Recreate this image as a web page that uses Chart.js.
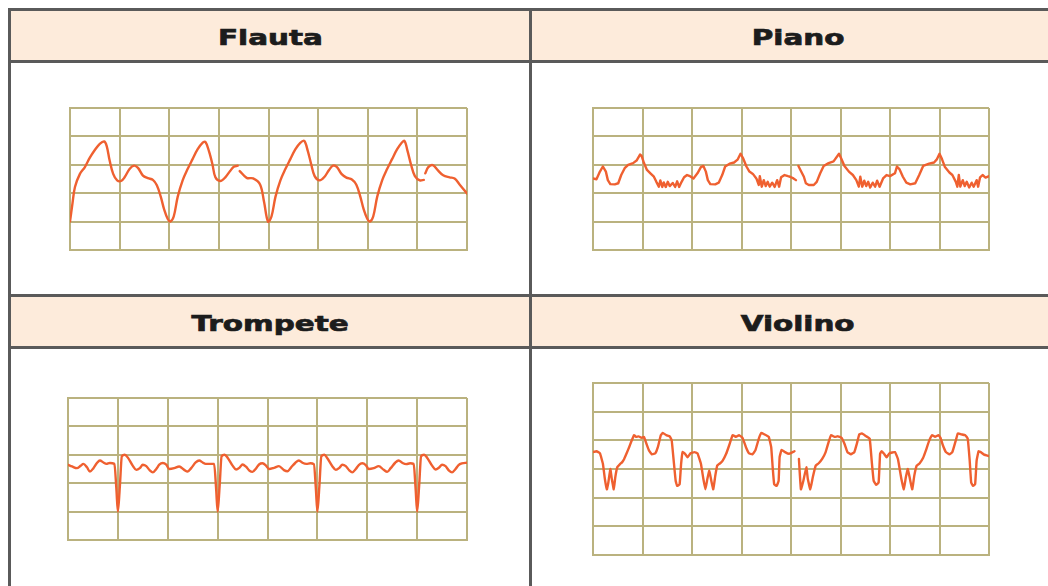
<!DOCTYPE html>
<html>
<head>
<meta charset="utf-8">
<script src="https://cdn.jsdelivr.net/npm/chart.js@4/dist/chart.umd.min.js"></script>
<style>
  html, body { margin: 0; padding: 0; background: #ffffff; }
  body { width: 1048px; height: 586px; position: relative; overflow: hidden; }
  .hdr { position: absolute; background: #fdebdb; display: flex; align-items: center; justify-content: center; }
  .hdr span { display: inline-block; font-family: "DejaVu Sans", sans-serif; font-weight: bold; font-size: 21px; color: #1c1c1c; -webkit-text-stroke: 0.7px #1c1c1c; transform: translateY(2px) scaleX(1.40); }
  .ln { position: absolute; background: #5a5a5a; }
  canvas { position: absolute; }
</style>
</head>
<body>
<div class="hdr" style="left:10px;top:10px;width:520px;height:52px;"><span id="t0"></span></div>
<div class="hdr" style="left:530px;top:10px;width:536px;height:52px;"><span id="t1"></span></div>
<div class="hdr" style="left:10px;top:295px;width:520px;height:53px;"><span id="t2"></span></div>
<div class="hdr" style="left:530px;top:295px;width:536px;height:53px;"><span id="t3"></span></div>

<div class="ln" style="left:8px;top:8px;width:1060px;height:3px;"></div>
<div class="ln" style="left:8px;top:60px;width:1060px;height:3px;"></div>
<div class="ln" style="left:8px;top:294px;width:1060px;height:3px;"></div>
<div class="ln" style="left:8px;top:346px;width:1060px;height:3px;"></div>
<div class="ln" style="left:8px;top:8px;width:3px;height:600px;"></div>
<div class="ln" style="left:529px;top:8px;width:3px;height:600px;"></div>

<canvas id="c0" width="403" height="148" style="left:67px;top:105px;"></canvas>
<canvas id="c1" width="402" height="148" style="left:590px;top:105px;"></canvas>
<canvas id="c2" width="405" height="148" style="left:65px;top:395px;"></canvas>
<canvas id="c3" width="402" height="178" style="left:590px;top:380px;"></canvas>

<script>
// ---- data (grid units: x 0..8, y 0..rows) ----
const titles = ["Flauta", "Piano", "Trompete", "Violino"];

const flautaX = [0,0.05,0.1,0.2,0.3,0.4,0.5,0.6,0.69,0.74,0.8,0.87,0.95,1.03,1.1,1.2,1.29,1.37,1.47,1.57,1.67,1.75,1.83,1.9,1.97,2.02,
  2.09,2.17,2.27,2.37,2.47,2.57,2.67,2.73,2.8,2.87,2.93,3.03,3.13,3.23,3.3,3.38,3.4,3.42,3.56,3.69,3.83,3.91,3.99,
  4.06,4.14,4.24,4.34,4.44,4.54,4.64,4.72,4.79,4.86,4.93,5.03,5.13,5.22,5.3,5.38,5.47,5.57,5.68,5.77,5.85,5.92,5.99,6.04,
  6.11,6.19,6.29,6.39,6.49,6.59,6.68,6.74,6.8,6.87,6.95,7.05,7.13,7.15,7.16,7.22,7.31,7.41,7.52,7.65,7.75,7.85,8.0];
const flautaY = [1.0,1.64,2.22,2.68,2.92,3.25,3.52,3.74,3.82,3.66,3.14,2.68,2.45,2.43,2.56,2.85,2.97,2.89,2.62,2.53,2.47,2.28,1.87,1.41,1.09,1.0,
  1.18,1.87,2.45,2.85,3.2,3.54,3.77,3.8,3.48,3.02,2.56,2.43,2.56,2.79,2.93,2.97,null,2.78,2.54,2.52,2.31,1.7,1.0,
  1.18,1.87,2.45,2.85,3.2,3.54,3.77,3.84,3.5,3.02,2.6,2.45,2.58,2.82,2.97,2.92,2.68,2.55,2.48,2.3,1.88,1.42,1.1,1.0,
  1.18,1.87,2.45,2.85,3.2,3.54,3.77,3.84,3.5,3.02,2.6,2.45,2.47,null,2.7,2.92,2.99,2.81,2.63,2.56,2.52,2.31,1.99];

const pianoX = [0,0.07,0.14,0.2,0.26,0.3,0.35,0.44,0.51,0.57,0.64,0.71,0.81,0.88,0.95,0.98,1.03,1.09,1.16,1.23,1.28,1.33,1.36,1.4,1.43,1.47,1.51,1.55,1.61,1.66,1.7,1.74,1.79,1.84,1.9,1.96,2.03,
  2.11,2.18,2.23,2.28,2.32,2.37,2.47,2.54,2.61,2.67,2.76,2.85,2.92,2.98,3.03,3.1,3.16,3.23,3.3,3.35,3.37,3.41,3.45,3.49,3.53,3.57,3.62,3.67,3.72,3.76,3.8,3.87,3.94,3.98,4.05,4.1,4.12,
  4.15,4.19,4.26,4.3,4.36,4.46,4.52,4.59,4.66,4.76,4.86,4.97,5.01,5.08,5.17,5.25,5.32,5.37,5.4,5.44,5.48,5.52,5.56,5.6,5.65,5.7,5.74,5.79,5.86,5.93,6.0,
  6.1,6.14,6.19,6.26,6.33,6.41,6.51,6.59,6.67,6.79,6.89,6.95,7.0,7.05,7.11,7.2,7.26,7.33,7.36,7.39,7.42,7.47,7.51,7.55,7.6,7.65,7.69,7.75,7.78,7.82,7.87,7.93,8.0];
const pianoY = [2.52,2.49,2.76,2.94,2.76,2.46,2.32,2.31,2.35,2.64,2.88,3.0,3.06,3.15,3.36,3.32,3.06,2.82,2.7,2.58,2.4,2.23,2.45,2.22,2.38,2.22,2.4,2.25,2.36,2.22,2.42,2.22,2.4,2.56,2.64,2.6,2.52,
  2.7,2.92,2.96,2.76,2.46,2.32,2.31,2.37,2.64,2.94,3.04,3.08,3.18,3.39,3.24,2.94,2.76,2.68,2.52,2.29,2.6,2.23,2.46,2.25,2.4,2.23,2.37,2.22,2.46,2.23,2.56,2.64,2.6,2.58,2.52,2.46,null,
  2.96,2.82,2.58,2.35,2.29,2.29,2.4,2.7,2.96,3.06,3.12,3.39,3.24,2.96,2.76,2.64,2.46,2.23,2.58,2.23,2.44,2.25,2.4,2.2,2.37,2.23,2.44,2.23,2.52,2.64,2.6,
  2.7,2.94,2.85,2.58,2.37,2.31,2.35,2.64,2.96,3.04,3.08,3.2,3.39,3.2,2.92,2.73,2.64,2.4,2.23,2.64,2.23,2.46,2.25,2.4,2.2,2.37,2.23,2.46,2.23,2.56,2.64,2.55,2.6];

const trompeteX = [0,0.08,0.18,0.25,0.31,0.38,0.44,0.51,0.58,0.64,0.71,0.77,0.84,0.93,0.97,1.0,1.04,1.08,1.14,
  1.2,1.3,1.37,1.44,1.5,1.57,1.64,1.7,1.77,1.83,1.9,1.97,2.03,2.13,2.23,2.33,2.4,2.47,2.56,2.63,2.7,2.76,2.86,2.93,2.97,3.0,3.04,3.08,3.14,
  3.2,3.3,3.37,3.44,3.5,3.57,3.64,3.7,3.77,3.83,3.9,3.97,4.03,4.13,4.23,4.33,4.4,4.47,4.56,4.63,4.7,4.78,4.86,4.93,4.97,5.0,5.04,5.08,5.14,
  5.2,5.3,5.37,5.44,5.5,5.57,5.64,5.7,5.77,5.83,5.9,5.97,6.03,6.13,6.23,6.33,6.4,6.47,6.56,6.63,6.7,6.78,6.86,6.93,6.97,7.0,7.04,7.08,7.14,
  7.2,7.3,7.37,7.44,7.5,7.57,7.64,7.7,7.77,7.83,7.9,8.0];
const trompeteY = [2.65,2.59,2.53,2.61,2.68,2.56,2.41,2.53,2.71,2.8,2.73,2.68,2.71,2.68,1.8,1.0,1.9,2.95,3.0,
  2.9,2.61,2.47,2.53,2.65,2.6,2.45,2.38,2.5,2.65,2.71,2.65,2.5,2.53,2.59,2.47,2.41,2.53,2.73,2.8,2.73,2.68,2.68,2.68,1.8,1.0,1.9,2.95,3.0,
  2.9,2.62,2.48,2.55,2.66,2.58,2.44,2.4,2.52,2.66,2.7,2.62,2.5,2.54,2.6,2.46,2.42,2.55,2.72,2.8,2.72,2.68,2.7,2.67,1.8,1.0,1.9,2.95,3.0,
  2.88,2.6,2.47,2.54,2.65,2.6,2.45,2.38,2.5,2.64,2.7,2.64,2.5,2.53,2.6,2.47,2.4,2.53,2.72,2.8,2.72,2.67,2.7,2.68,1.8,1.0,1.9,2.95,3.0,
  2.9,2.62,2.48,2.55,2.65,2.6,2.44,2.38,2.5,2.64,2.7,2.72];

const violinoX = [0,0.07,0.14,0.2,0.24,0.28,0.31,0.35,0.38,0.42,0.45,0.49,0.55,0.59,0.63,0.69,0.73,0.77,0.83,0.87,0.92,0.98,1.03,1.08,1.13,1.19,1.26,1.31,1.37,1.41,1.48,1.55,1.59,1.63,1.67,1.7,1.75,1.78,1.81,1.86,1.91,1.97,
  2.05,2.11,2.18,2.23,2.27,2.31,2.35,2.39,2.43,2.47,2.51,2.57,2.62,2.69,2.75,2.82,2.89,2.95,3.02,3.09,3.15,3.22,3.28,3.35,3.4,3.46,3.55,3.6,3.63,3.66,3.71,3.75,3.77,3.81,3.88,3.96,4.07,4.1,
  4.16,4.2,4.25,4.31,4.34,4.39,4.44,4.5,4.56,4.63,4.7,4.76,4.81,4.88,4.95,5.02,5.08,5.14,5.21,5.28,5.33,5.38,5.43,5.52,5.59,5.63,5.67,5.72,5.77,5.8,5.83,5.88,5.93,5.99,
  6.1,6.16,6.23,6.28,6.32,6.36,6.41,6.45,6.49,6.54,6.6,6.67,6.72,6.79,6.85,6.91,6.98,7.02,7.07,7.13,7.2,7.26,7.33,7.37,7.44,7.52,7.57,7.61,7.64,7.68,7.72,7.75,7.79,7.83,7.9,8.0];
const violinoY = [3.59,3.62,3.55,3.18,2.65,2.29,2.53,3.0,2.65,2.29,2.71,3.06,3.18,3.24,3.35,3.59,3.76,3.94,4.18,4.12,4.14,4.09,4.12,3.88,3.65,3.51,3.55,3.76,4.18,4.26,4.18,4.14,4.0,3.29,2.59,2.41,2.47,3.18,3.59,3.53,3.41,3.55,
  3.59,3.55,3.18,2.65,2.29,2.65,2.94,2.59,2.29,2.76,3.12,3.2,3.29,3.53,3.82,4.18,4.12,4.18,4.09,3.76,3.55,3.51,3.65,4.06,4.26,4.21,4.12,3.76,3.06,2.47,2.41,2.59,3.41,3.67,3.59,3.53,3.62,null,
  3.35,2.29,2.59,3.06,2.65,2.29,2.71,3.12,3.2,3.35,3.59,3.94,4.18,4.12,4.14,4.09,3.88,3.59,3.51,3.59,3.88,4.21,4.24,4.14,4.06,3.29,2.59,2.45,2.53,3.53,3.62,3.53,3.41,3.55,
  3.59,3.35,2.65,2.29,2.71,3.0,2.59,2.29,2.76,3.12,3.2,3.39,3.62,3.98,4.18,4.12,4.18,4.09,3.82,3.59,3.51,3.59,4.0,4.24,4.21,4.18,4.06,3.29,2.53,2.41,2.47,3.29,3.62,3.59,3.5,3.45];

// ---- styling ----
const GRID = "#bab27f";
const WAVE = "#ef6030";

function pts(xs, ys) { return xs.map((x, i) => ({ x: x, y: ys[i] })); }

function makeChart(id, xs, ys, rows, tension, mono) {
  const axis = (max) => ({
    type: "linear", min: 0, max: max,
    ticks: { display: false, stepSize: 1 },
    grid: { color: GRID, lineWidth: 2, drawTicks: false },
    border: { display: true, color: GRID, width: 2 }
  });
  new Chart(document.getElementById(id), {
    type: "line",
    data: { datasets: [{
      data: pts(xs, ys),
      borderColor: WAVE, borderWidth: 2.4,
      borderJoinStyle: "round", borderCapStyle: "round",
      pointRadius: 0, spanGaps: false,
      tension: tension,
      cubicInterpolationMode: mono ? "monotone" : "default",
      fill: false
    }]},
    options: {
      responsive: false, animation: false,
      layout: { padding: 3 },
      plugins: { legend: { display: false }, tooltip: { enabled: false } },
      scales: { x: axis(8), y: axis(rows) }
    }
  });
}

document.getElementById("t0").textContent = titles[0];
document.getElementById("t1").textContent = titles[1];
document.getElementById("t2").textContent = titles[2];
document.getElementById("t3").textContent = titles[3];

makeChart("c0", flautaX, flautaY, 5, 0.35, false);
makeChart("c1", pianoX, pianoY, 5, 0, false);
makeChart("c2", trompeteX, trompeteY, 5, 0.4, true);
makeChart("c3", violinoX, violinoY, 6, 0.1, false);
</script>
</body>
</html>
